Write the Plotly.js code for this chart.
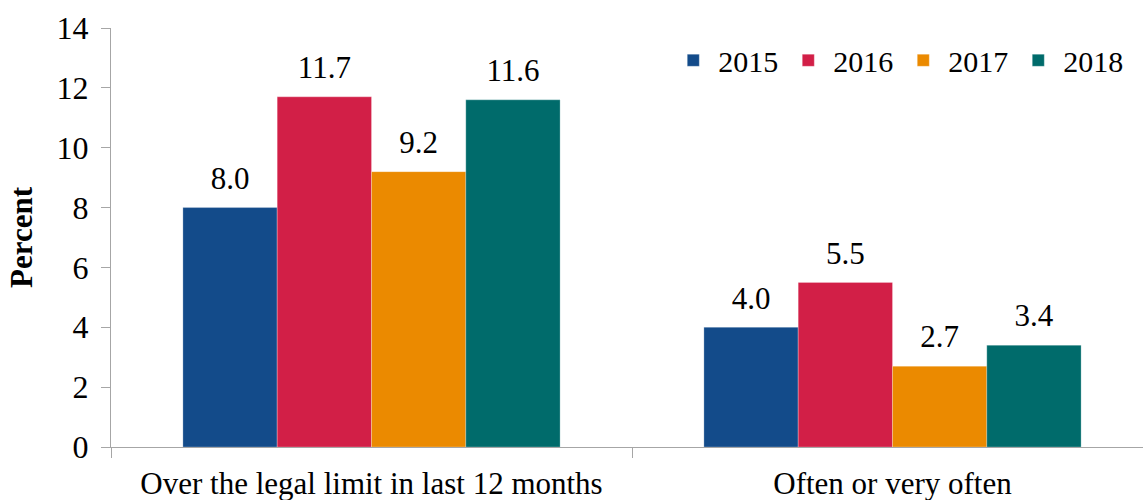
<!DOCTYPE html>
<html><head><meta charset="utf-8">
<script src="https://cdn.plot.ly/plotly-3.0.1.min.js"></script>
<style>html,body{margin:0;padding:0;background:#fff}#chart{width:1143px;height:500px}</style>
</head><body><div id="chart"></div>
<script>
const categories = ["Over the legal limit in last 12 months", "Often or very often"];
const years = ["2015", "2016", "2017", "2018"];
const v2015 = [8.0, 4.0];
const v2016 = [11.7, 5.5];
const v2017 = [9.2, 2.7];
const v2018 = [11.6, 3.4];
const colors = ["#134B8A", "#D21F47", "#EB8A00", "#006B6B"];
const series = [v2015, v2016, v2017, v2018];
const font = "Liberation Serif";
const bars = series.map((vals, i) => ({
  type: "bar", name: years[i], x: categories, y: vals,
  marker: {color: colors[i], line: {color: "rgba(255,255,255,0.5)", width: 0.5}},
  hoverinfo: "skip"
}));
const labels = series.map((vals, i) => ({
  type: "scatter", mode: "markers+text", x: categories, y: vals, showlegend: false,
  marker: {size: 16, color: "rgba(0,0,0,0)"},
  text: vals.map(v => v.toFixed(1)), textposition: "top center",
  textfont: {family: font, size: 31, color: "#000"}, cliponaxis: false, hoverinfo: "skip"
}));
const layout = {
  width: 1143, height: 500,
  margin: {l: 111, r: 0, t: 28, b: 53},
  paper_bgcolor: "#fff", plot_bgcolor: "#fff",
  barmode: "group", bargap: 0.276, bargroupgap: 0,
  scattermode: "group", scattergap: 0.276,
  font: {family: font, size: 31, color: "#000"},
  showlegend: true,
  legend: {orientation: "h", x: 0.540, y: 0.923, xanchor: "left", yanchor: "middle",
           font: {family: font, size: 30}, itemwidth: 40, traceorder: "normal"},
  xaxis: {type: "category", range: [-0.5, 1.4808], showline: true, linecolor: "#a6a6a6", linewidth: 1,
          ticks: "outside", tickson: "boundaries", ticklen: 10, tickcolor: "#a6a6a6",
          showgrid: false, zeroline: false, tickfont: {family: font, size: 31}, ticklabelstandoff: 9},
  yaxis: {range: [0, 14], dtick: 2, showline: true, linecolor: "#a6a6a6", linewidth: 1,
          ticks: "outside", ticklen: 9, tickcolor: "#a6a6a6", showgrid: false, zeroline: false,
          tickfont: {family: font, size: 32}, ticklabelstandoff: 6,
          title: {text: "<b>Percent</b>", font: {family: font, size: 31}, standoff: 14}}
};
Plotly.newPlot("chart", bars.concat(labels), layout, {displayModeBar: false});
</script></body></html>
